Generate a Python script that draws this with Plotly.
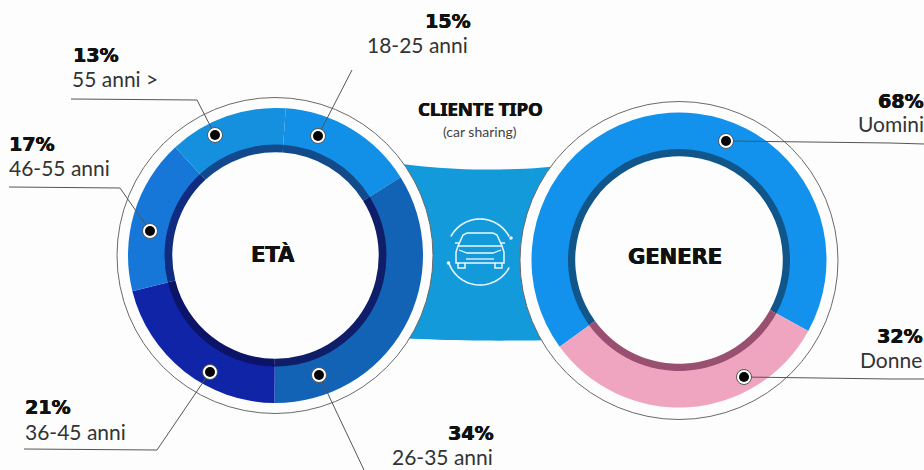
import numpy as np
import plotly.graph_objects as go

W, H = 924, 470

age_labels = ["18-25 anni", "26-35 anni", "36-45 anni", "46-55 anni", "55 anni >"]
age_values = [15, 34, 21, 17, 13]
age_colors = ["#128fe6", "#1263b5", "#0f24a6", "#1677d8", "#1490df"]
age_inner = ["#134a8a", "#101e6a", "#0c1468", "#102c80", "#12488c"]

gender_labels = ["Uomini", "Donne"]
gender_values = [68, 32]
gender_colors = ["#1292ec", "#efa5bf"]
gender_inner = ["#11568a", "#994f70"]

INK = "#111111"
LABEL = "#333333"
LINE = "#555555"
BAND = "#129ada"


def px(x):
    return x / W


def py(y):
    return 1 - y / H


def pie(labels, values, colors, cx, cy, r, hole, rotation):
    return go.Pie(
        labels=labels, values=values, sort=False, direction="clockwise",
        rotation=rotation, hole=hole, textinfo="none", showlegend=False,
        marker=dict(colors=colors, line=dict(width=0)),
        domain=dict(x=[px(cx - r), px(cx + r)], y=[py(cy + r), py(cy - r)]),
    )


def circle(cx, cy, r, fill, line="rgba(0,0,0,0)", width=0, layer="above"):
    return dict(type="circle", xref="paper", yref="paper", layer=layer,
                x0=px(cx - r), x1=px(cx + r), y0=py(cy + r), y1=py(cy - r),
                fillcolor=fill, line=dict(color=line, width=width))


def poly(points, color=LINE, width=1, fill=None, close=False, layer="above"):
    d = "M" + " L".join(f"{px(x):.5f},{py(y):.5f}" for x, y in points)
    if close:
        d += " Z"
    return dict(type="path", xref="paper", yref="paper", layer=layer, path=d,
                fillcolor=fill if fill else "rgba(0,0,0,0)",
                line=dict(color=color, width=width))


def arc(cx, cy, r, a0, a1, n=40):
    t = np.radians(np.linspace(a0, a1, n))
    return list(zip(cx + r * np.sin(t), cy - r * np.cos(t)))


def text(x, y, s, size, family, color, anchor="left", bold=False):
    font = dict(size=size, family=family, color=color)
    if bold:
        font["shadow"] = f"0.5px 0 0 {color}, -0.3px 0 0 {color}"
    return dict(xref="paper", yref="paper", x=px(x), y=py(y), text=f"<b>{s}</b>" if bold else s,
                showarrow=False, xanchor=anchor, yanchor="middle", borderpad=0, font=font)


fig = go.Figure()
fig.add_trace(pie(age_labels, age_values, age_colors, 275.5, 255.5, 147.5, 0.74, 4))
fig.add_trace(pie(age_labels, age_values, age_inner, 275.5, 255.5, 111, 0.93, 4))
fig.add_trace(pie(gender_labels, gender_values, gender_colors, 679, 260, 147.5, 0.74, 234))
fig.add_trace(pie(gender_labels, gender_values, gender_inner, 679, 260, 111, 0.935, 234))

# Central band behind the rings
top = [(395 + t * 165, 163 + 10 * t * (1 - t) * 4 * 0.5 + 3 * t) for t in np.linspace(0, 1, 20)]
bottom = [(560 - t * 165, 340 - 2 * t + 1.5 * np.sin(np.pi * t)) for t in np.linspace(0, 1, 20)]
shapes = [poly(top + bottom, color=BAND, width=0, fill=BAND, close=True, layer="below")]

# Outer rings
shapes.append(circle(275, 255.5, 158, "#fdfdfd", "#6a6a6a", 1, layer="below"))
shapes.append(circle(679, 260.5, 159, "#fdfdfd", "#6a6a6a", 1, layer="below"))

# Leader lines
leaders = [
    [(71, 99), (197, 100), (215, 135)],
    [(318, 136), (352, 70)],
    [(9, 187), (120, 188), (150, 231)],
    [(210, 372), (157, 450), (24, 449)],
    [(319, 375), (364, 470)],
    [(726, 141), (890, 143), (924, 144)],
    [(744, 377), (890, 379), (924, 379)],
]
shapes += [poly(p, width=1) for p in leaders]

# Dots
for cx, cy in [(215, 135), (318, 136), (150, 231), (210, 372), (319, 375), (726, 141), (744, 377)]:
    shapes.append(circle(cx, cy, 7.5, "#ffffff", "#555555", 1))
    shapes.append(circle(cx, cy, 5, "#050505"))

# Car icon
WHITE = "rgba(255,255,255,0.92)"
shapes.append(poly(arc(480, 252, 33, -62, 62), WHITE, 1.6))
shapes.append(poly(arc(480, 252, 33, 118, 252), WHITE, 1.6))
shapes.append(circle(511, 238, 1.8, WHITE))
shapes.append(circle(448.5, 263, 1.8, WHITE))
shapes.append(poly([(458, 246), (463, 235), (467, 233), (493, 233), (497, 235), (502, 246)], WHITE, 1.5))
shapes.append(poly([(458, 246), (502, 246), (504, 252), (504, 263), (456, 263), (456, 252)], WHITE, 1.5, close=True))
shapes.append(poly([(458, 263), (458, 268), (465, 268), (465, 263)], WHITE, 1.5))
shapes.append(poly([(495, 263), (495, 268), (502, 268), (502, 263)], WHITE, 1.5))
shapes.append(poly([(455, 243), (459, 243)], WHITE, 1.5))
shapes.append(poly([(501, 243), (505, 243)], WHITE, 1.5))
shapes.append(poly([(459, 250), (467, 253), (493, 253), (501, 250)], WHITE, 1.3))
shapes.append(poly([(466, 259), (494, 259)], WHITE, 1.3))

BOLD = "DejaVu Sans"
LIGHT = "Lato"
val = {l: f"{v}%" for l, v in zip(age_labels + gender_labels, age_values + gender_values)}
annos = [
    text(424, 21, val["18-25 anni"], 19, BOLD, INK, bold=True),
    text(366, 44, "18-25 anni", 21, LIGHT, LABEL),
    text(72, 55, val["55 anni >"], 19, BOLD, INK, bold=True),
    text(71, 79, "55 anni >", 21, LIGHT, LABEL),
    text(8, 144, val["46-55 anni"], 19, BOLD, INK, bold=True),
    text(8, 167, "46-55 anni", 21, LIGHT, LABEL),
    text(24, 407, val["36-45 anni"], 19, BOLD, INK, bold=True),
    text(24, 431, "36-45 anni", 21, LIGHT, LABEL),
    text(447, 433, val["26-35 anni"], 19, BOLD, INK, bold=True),
    text(391, 456, "26-35 anni", 21, LIGHT, LABEL),
    text(924, 101, val["Uomini"], 19, BOLD, INK, "right", bold=True),
    text(925, 123, "Uomini", 21, LIGHT, LABEL, "right"),
    text(923, 336, val["Donne"], 19, BOLD, INK, "right", bold=True),
    text(923, 359, "Donne", 21, LIGHT, LABEL, "right"),
    text(480.5, 109, "CLIENTE TIPO", 18.5, "Noto Sans", INK, "center", bold=True),
    text(480, 131, "(car sharing)", 14, LIGHT, "#444444", "center"),
    text(273, 254, "ETÀ", 21, BOLD, INK, "center", bold=True),
    text(675, 257, "GENERE", 21, BOLD, INK, "center", bold=True),
]

fig.update_layout(
    width=W, height=H, autosize=False,
    margin=dict(l=0, r=0, t=0, b=0),
    paper_bgcolor="#fdfdfd", plot_bgcolor="#fdfdfd",
    shapes=shapes, annotations=annos,
)
fig.write_html("out.html", config=dict(displayModeBar=False),
               post_script="document.body.style.margin='0';document.documentElement.style.overflow='hidden';")
